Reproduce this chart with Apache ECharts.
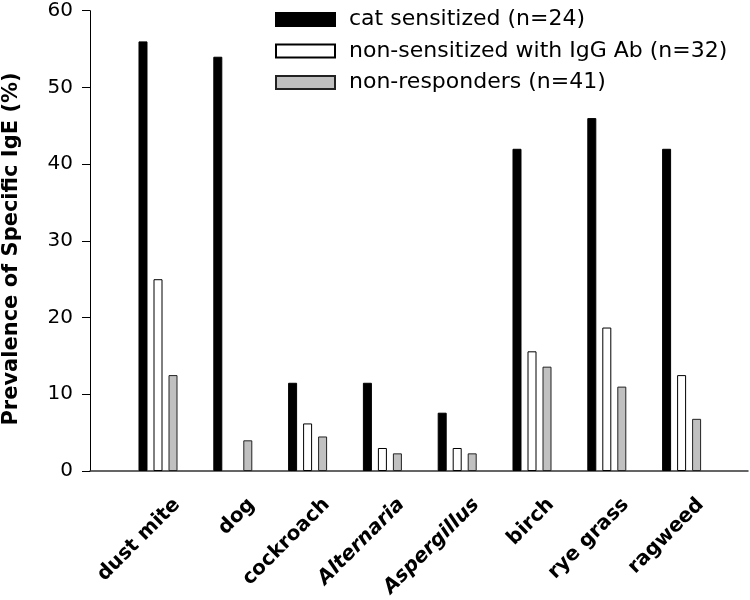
<!DOCTYPE html>
<html>
<head>
<meta charset="utf-8">
<script src="https://cdn.jsdelivr.net/npm/echarts@6/dist/echarts.min.js"></script>
<style>
html,body{margin:0;padding:0;background:#fff;}
#chart{width:750px;height:600px;}
</style>
</head>
<body>
<div id="chart"></div>
<script>
// ---- data ----
var categories = ['dust mite', 'dog', 'cockroach', 'Alternaria', 'Aspergillus', 'birch', 'rye grass', 'ragweed'];
var italicCats = ['Alternaria', 'Aspergillus'];
var seriesNames = ['cat sensitized (n=24)', 'non-sensitized with IgG Ab (n=32)', 'non-responders (n=41)'];
var catSensitized = [56, 54, 11.5, 11.5, 7.6, 42, 46, 42];
var nonSensitizedIgG = [25, 0, 6.2, 3.0, 3.0, 15.6, 18.7, 12.5];
var nonResponders = [12.5, 4.0, 4.5, 2.3, 2.3, 13.6, 11.0, 6.8];
var yTicks = { min: 0, max: 60, interval: 10 };
var yTitle = 'Prevalence of Specific IgE (%)';

(function () {
var FONT = '"DejaVu Sans", sans-serif';
var chart = echarts.init(document.getElementById('chart'), null, { renderer: 'canvas' });
// zero-height bars are not drawn in the original figure
function noZero(arr) { return arr.map(function (v) { return v === 0 ? '-' : v; }); }

var gTop = 10.7, gBottom = 129;
var option = {
  backgroundColor: '#fff',
  animation: false,
  legend: {
    left: 275, top: 8.5, orient: 'vertical', padding: 0,
    itemWidth: 59, itemHeight: 13, itemGap: 9.5,
    icon: 'rect',
    textStyle: { fontFamily: FONT, fontSize: 22, color: '#000', padding: [0, 0, 0, 9] },
    data: seriesNames
  },
  grid: [
    { left: 120.6, right: 31, top: gTop, bottom: gBottom },
    { left: 90, right: 2, top: gTop, bottom: gBottom },
    { left: 139.6, right: 12, top: gTop, bottom: gBottom }
  ],
  xAxis: [
    { type: 'category', gridIndex: 0, data: categories, show: false },
    { type: 'category', gridIndex: 1, data: [''], axisLine: { show: true, lineStyle: { color: '#333', width: 1.5 } },
      axisTick: { show: false }, axisLabel: { show: false }, splitLine: { show: false } },
    { type: 'category', gridIndex: 2, data: categories,
      axisLine: { show: false }, axisTick: { show: false },
      axisLabel: {
        rotate: 45, margin: 36, interval: 0,
        fontFamily: FONT, fontSize: 20, fontWeight: 'bold', color: '#000',
        formatter: function (v) { return italicCats.indexOf(v) >= 0 ? '{i|' + v + '}' : v; },
        rich: { i: { fontFamily: FONT, fontSize: 20, fontWeight: 'bold', fontStyle: 'italic', color: '#000' } }
      } }
  ],
  yAxis: [
    { type: 'value', gridIndex: 0, min: yTicks.min, max: yTicks.max, show: false },
    { type: 'value', gridIndex: 1, min: yTicks.min, max: yTicks.max, interval: yTicks.interval,
      axisLine: { show: true, lineStyle: { color: '#000', width: 1 } },
      axisTick: { show: true, inside: false, length: 8, lineStyle: { color: '#000', width: 1 } },
      axisLabel: { margin: 17, fontFamily: FONT, fontSize: 20, color: '#000' },
      splitLine: { show: false } },
    { type: 'value', gridIndex: 2, min: yTicks.min, max: yTicks.max, show: false }
  ],
  graphic: [{
    type: 'text', x: 12, y: 249, rotation: Math.PI / 2,
    style: { text: yTitle, fill: '#000', font: 'bold 21px ' + FONT, textAlign: 'center', textVerticalAlign: 'middle' }
  }],
  series: [
    { name: seriesNames[0], type: 'bar', xAxisIndex: 0, yAxisIndex: 0, data: noZero(catSensitized),
      barWidth: 9, barGap: '66.7%',
      itemStyle: { color: '#000', borderColor: '#000', borderWidth: 1 } },
    { name: seriesNames[1], type: 'bar', xAxisIndex: 0, yAxisIndex: 0, data: noZero(nonSensitizedIgG),
      barWidth: 9, barGap: '66.7%',
      itemStyle: { color: '#fff', borderColor: '#000', borderWidth: 1 } },
    { name: seriesNames[2], type: 'bar', xAxisIndex: 0, yAxisIndex: 0, data: noZero(nonResponders),
      barWidth: 9, barGap: '66.7%',
      itemStyle: { color: '#c0c0c0', borderColor: '#222', borderWidth: 1 } }
  ]
};
chart.setOption(option);
})();
</script>
</body>
</html>
